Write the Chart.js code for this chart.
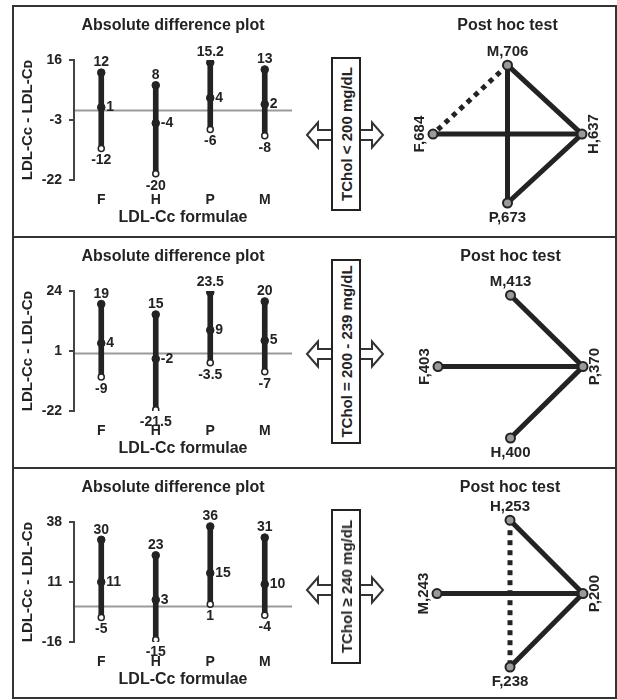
<!DOCTYPE html>
<html><head><meta charset="utf-8">
<script src="https://cdn.jsdelivr.net/npm/chart.js@4"></script>
<style>
html,body{margin:0;padding:0;background:#fff;}
body{width:617px;height:700px;position:relative;overflow:hidden;font-family:"Liberation Sans",Arial,sans-serif;}
.frame{position:absolute;left:12px;top:5px;width:605px;height:694px;border:2px solid #333;box-sizing:border-box;}
.sep{position:absolute;left:12px;width:605px;height:2px;background:#333;}
canvas{position:absolute;}
svg{position:absolute;overflow:visible;}
</style>
</head><body>
<div class="frame"></div>
<div class="sep" style="top:236px"></div>
<div class="sep" style="top:467px"></div>
<canvas id="l1" width="318" height="231" style="left:14px;top:6px"></canvas>
<canvas id="l2" width="318" height="231" style="left:14px;top:237px"></canvas>
<canvas id="l3" width="318" height="231" style="left:14px;top:468px"></canvas>
<canvas id="r1" width="216" height="231" style="left:400px;top:6px"></canvas>
<canvas id="r2" width="216" height="231" style="left:400px;top:237px"></canvas>
<canvas id="r3" width="216" height="231" style="left:400px;top:468px"></canvas>
<svg id="m1" width="100" height="231" style="left:300px;top:6px"></svg>
<svg id="m2" width="100" height="231" style="left:300px;top:237px"></svg>
<svg id="m3" width="100" height="231" style="left:300px;top:468px"></svg>
<script>
// ---------- data ----------
const formulas = ['F', 'H', 'P', 'M'];

const p1Upper = [12, 8, 15.2, 13];
const p1Mean  = [1, -4, 4, 2];
const p1Lower = [-12, -20, -6, -8];
const p1Ticks = [-22, -3, 16];

const p2Upper = [19, 15, 23.5, 20];
const p2Mean  = [4, -2, 9, 5];
const p2Lower = [-9, -21.5, -3.5, -7];
const p2Ticks = [-22, 1, 24];

const p3Upper = [30, 23, 36, 31];
const p3Mean  = [11, 3, 15, 10];
const p3Lower = [-5, -15, 1, -4];
const p3Ticks = [-16, 11, 38];

const rangeLabels = ['TChol < 200 mg/dL', 'TChol = 200 - 239 mg/dL', 'TChol \u2265 240 mg/dL'];

// post hoc networks: node names, counts (slot order: top, left, right, bottom)
const p1Nodes = ['M', 'F', 'H', 'P'];
const p1Counts = [706, 684, 637, 673];
const p1Edges = [['M', 'F', 'dotted'], ['M', 'P', 'solid'], ['M', 'H', 'solid'], ['F', 'H', 'solid'], ['H', 'P', 'solid']];

const p2Nodes = ['M', 'F', 'P', 'H'];
const p2Counts = [413, 403, 370, 400];
const p2Edges = [['M', 'P', 'solid'], ['F', 'P', 'solid'], ['H', 'P', 'solid']];

const p3Nodes = ['H', 'M', 'P', 'F'];
const p3Counts = [253, 243, 200, 238];
const p3Edges = [['H', 'P', 'solid'], ['M', 'P', 'solid'], ['F', 'P', 'solid'], ['H', 'F', 'dotted']];

const slots = ['top', 'left', 'right', 'bottom'];

// ---------- styling ----------
const FONT = '"Liberation Sans", Arial, "DejaVu Sans", sans-serif';
const INK = '#232323';
Chart.defaults.font.family = FONT;
Chart.defaults.color = INK;

const zeroLine = {
  id: 'zeroLine',
  beforeDatasetsDraw(chart) {
    const {ctx, chartArea, scales} = chart;
    const y = scales.y.getPixelForValue(0);
    ctx.save();
    ctx.strokeStyle = '#9a9a9a';
    ctx.lineWidth = 2;
    ctx.beginPath();
    ctx.moveTo(chartArea.left + 1, y);
    ctx.lineTo(chartArea.right, y);
    ctx.stroke();
    ctx.restore();
  }
};

const panelTitle = {
  id: 'panelTitle',
  afterDraw(chart) {
    const o = chart.options.plugins.panelTitle;
    const {ctx} = chart;
    ctx.save();
    ctx.font = 'bold 16px ' + FONT;
    ctx.fillStyle = INK;
    ctx.textAlign = 'center';
    ctx.textBaseline = 'middle';
    ctx.fillText(o.text, chart.width / 2, o.y);
    ctx.restore();
  }
};

const valueLabels = {
  id: 'valueLabels',
  afterDatasetsDraw(chart) {
    const {ctx, scales} = chart;
    const ds = chart.data.datasets;
    const up = ds[0].data, mid = ds[1].data, low = ds[2].data;
    ctx.save();
    ctx.font = 'bold 14px ' + FONT;
    ctx.fillStyle = INK;
    for (let i = 0; i < up.length; i++) {
      const x = scales.x.getPixelForValue(i);
      ctx.textAlign = 'center';
      ctx.textBaseline = 'middle';
      ctx.fillText(String(up[i]), x, scales.y.getPixelForValue(up[i]) - 10);
      ctx.fillText(String(low[i]), x, scales.y.getPixelForValue(low[i]) + 12);
      ctx.textAlign = 'left';
      ctx.fillText(String(mid[i]), x + 5, scales.y.getPixelForValue(mid[i]));
    }
    ctx.restore();
  }
};

function leftChart(id, upper, mean, lower, ticks) {
  const lo = ticks[0], hi = ticks[ticks.length - 1];
  new Chart(document.getElementById(id), {
    type: 'bar',
    data: {
      labels: formulas,
      datasets: [
        {type: 'line', data: upper, showLine: false, pointRadius: 3.8, pointBackgroundColor: INK, pointBorderColor: INK, pointBorderWidth: 1, order: 0},
        {type: 'line', data: mean, showLine: false, pointRadius: 3.8, pointBackgroundColor: INK, pointBorderColor: INK, pointBorderWidth: 1, order: 0},
        {type: 'line', data: lower, showLine: false, pointRadius: 3, pointBackgroundColor: '#fff', pointBorderColor: INK, pointBorderWidth: 1.5, order: 0},
        {type: 'bar', data: lower.map((l, i) => [l, upper[i]]), backgroundColor: INK, barThickness: 5, order: 1}
      ]
    },
    options: {
      responsive: false, animation: false,
      layout: {padding: {left: 0, right: 40, top: 54, bottom: 0}},
      plugins: {
        legend: {display: false}, tooltip: {enabled: false}, title: {display: false},
        panelTitle: {text: 'Absolute difference plot', y: 19.5}
      },
      scales: {
        x: {
          grid: {display: false, drawTicks: false}, border: {display: false},
          ticks: {padding: 12, color: INK, font: {size: 14, weight: 'bold'}},
          title: {display: true, text: 'LDL-C\u1D04 formulae', color: INK, font: {size: 16, weight: 'bold'}, padding: {top: 0, bottom: 10}},
          afterFit(s) { s.height = 57; }
        },
        y: {
          min: lo, max: hi,
          afterBuildTicks(s) { s.ticks = ticks.map(v => ({value: v})); },
          grid: {drawOnChartArea: false, drawTicks: true, tickLength: 5, color: '#444', lineWidth: 2},
          border: {display: true, color: '#444', width: 2},
          ticks: {padding: 7, color: INK, font: {size: 14, weight: 'bold'}},
          title: {display: true, text: 'LDL-C\u1D04 - LDL-C\u1D05', color: INK, font: {size: 15, weight: 'bold'}, padding: {top: 5, bottom: 0}},
          afterFit(s) { s.width = 60; }
        }
      }
    },
    plugins: [zeroLine, valueLabels, panelTitle]
  });
}

const nodeLabels = {
  id: 'nodeLabels',
  afterDatasetsDraw(chart) {
    const {ctx} = chart;
    const meta = chart.getDatasetMeta(chart.data.datasets.length - 1);
    const info = chart.options.plugins.nodeLabels;
    ctx.save();
    ctx.font = 'bold 15px ' + FONT;
    ctx.fillStyle = INK;
    ctx.textAlign = 'center';
    ctx.textBaseline = 'middle';
    meta.data.forEach((pt, i) => {
      const txt = info.names[i] + ',' + info.counts[i];
      const slot = slots[i];
      if (slot === 'top') ctx.fillText(txt, pt.x, pt.y - 13);
      else if (slot === 'bottom') ctx.fillText(txt, pt.x, pt.y + 15);
      else {
        ctx.save();
        ctx.translate(slot === 'left' ? pt.x - 13 : pt.x + 12, pt.y);
        ctx.rotate(-Math.PI / 2);
        ctx.fillText(txt, 0, 0);
        ctx.restore();
      }
    });
    ctx.restore();
  }
};

function rightChart(id, names, counts, edges, pad) {
  const slotPos = {top: {x: 0, y: 1}, left: {x: -1, y: 0}, right: {x: 1, y: 0}, bottom: {x: 0, y: -1}};
  const pts = names.map((n, i) => ({x: slotPos[slots[i]].x, y: slotPos[slots[i]].y}));
  const idx = n => names.indexOf(n);
  const datasets = edges.map(e => ({
    type: 'line', data: [pts[idx(e[0])], pts[idx(e[1])]], showLine: true,
    borderColor: INK, borderWidth: 5, borderDash: e[2] === 'dotted' ? [5, 5] : [],
    pointRadius: 0, clip: false, order: 1
  }));
  datasets.push({
    type: 'scatter', data: pts, pointRadius: 4.5, pointBackgroundColor: '#9a9a9a',
    pointBorderColor: INK, pointBorderWidth: 2, clip: false, order: 0
  });
  new Chart(document.getElementById(id), {
    type: 'scatter',
    data: {datasets},
    options: {
      responsive: false, animation: false,
      layout: {padding: {left: pad.left, right: pad.right, top: 0, bottom: pad.bottom}},
      plugins: {
        legend: {display: false}, tooltip: {enabled: false},
        title: {display: true, text: 'Post hoc test', color: INK, font: {size: 16, weight: 'bold'}, padding: {top: 10, bottom: pad.top}},
        nodeLabels: {names, counts}
      },
      scales: {
        x: {type: 'linear', min: -1, max: 1, display: false},
        y: {type: 'linear', min: -1, max: 1, display: false}
      }
    },
    plugins: [nodeLabels]
  });
}

function middle(id, label, arrowY, boxTop, boxBottom) {
  const svg = document.getElementById(id);
  const ns = 'http://www.w3.org/2000/svg';
  const a = arrowY;
  const path = document.createElementNS(ns, 'path');
  path.setAttribute('d', `M7,${a} L18,${a-12.5} L18,${a-5} L72,${a-5} L72,${a-12.5} L83,${a} L72,${a+12.5} L72,${a+5} L18,${a+5} L18,${a+12.5} Z`);
  path.setAttribute('fill', '#fff'); path.setAttribute('stroke', '#333'); path.setAttribute('stroke-width', '2');
  svg.appendChild(path);
  const rect = document.createElementNS(ns, 'rect');
  rect.setAttribute('x', 32); rect.setAttribute('y', boxTop);
  rect.setAttribute('width', 28); rect.setAttribute('height', boxBottom - boxTop);
  rect.setAttribute('fill', '#fff'); rect.setAttribute('stroke', '#222'); rect.setAttribute('stroke-width', '2');
  svg.appendChild(rect);
  const t = document.createElementNS(ns, 'text');
  const cy = (boxTop + boxBottom) / 2;
  t.setAttribute('x', 0); t.setAttribute('y', 0);
  t.setAttribute('transform', `translate(46,${cy}) rotate(-90)`);
  t.setAttribute('text-anchor', 'middle'); t.setAttribute('dominant-baseline', 'central');
  t.setAttribute('font-family', FONT); t.setAttribute('font-weight', 'bold'); t.setAttribute('font-size', '15');
  t.setAttribute('fill', INK);
  t.textContent = label;
  svg.appendChild(t);
}

leftChart('l1', p1Upper, p1Mean, p1Lower, p1Ticks);
leftChart('l2', p2Upper, p2Mean, p2Lower, p2Ticks);
leftChart('l3', p3Upper, p3Mean, p3Lower, p3Ticks);

rightChart('r1', p1Nodes, p1Counts, p1Edges, {left: 33, right: 34, top: 30, bottom: 34});
rightChart('r2', p2Nodes, p2Counts, p2Edges, {left: 38, right: 33, top: 29, bottom: 30});
rightChart('r3', p3Nodes, p3Counts, p3Edges, {left: 37, right: 33, top: 23, bottom: 32});

middle('m1', rangeLabels[0], 129, 52, 204);
middle('m2', rangeLabels[1], 117, 23, 206);
middle('m3', rangeLabels[2], 122, 42, 195);
</script>
</body></html>
